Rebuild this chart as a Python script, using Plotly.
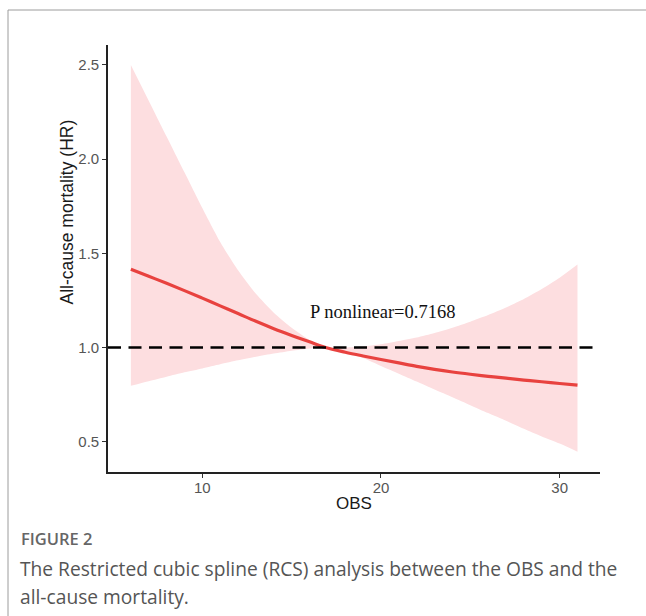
import plotly.graph_objects as go

# ---- data ----
obs = [6, 7, 8, 9, 10, 11, 12, 13, 14, 15, 16, 16.9, 18, 19, 20, 21, 22, 23, 24, 25, 26, 27, 28, 29, 30, 31]
hr = [1.415, 1.378, 1.341, 1.302, 1.262, 1.221, 1.180, 1.139, 1.100, 1.064, 1.030, 1.000,
      0.975, 0.955, 0.936, 0.918, 0.900, 0.884, 0.870, 0.858, 0.847, 0.837, 0.827, 0.818, 0.809, 0.800]
upper = [2.50, 2.31, 2.12, 1.93, 1.74, 1.56, 1.41, 1.285, 1.185, 1.105, 1.040, 1.000,
         1.000, 1.005, 1.017, 1.034, 1.053, 1.077, 1.105, 1.137, 1.172, 1.212, 1.257, 1.310, 1.370, 1.440]
lower = [0.797, 0.821, 0.845, 0.868, 0.889, 0.911, 0.932, 0.951, 0.968, 0.983, 0.995, 1.000,
         0.975, 0.944, 0.902, 0.861, 0.819, 0.777, 0.736, 0.694, 0.652, 0.611, 0.569, 0.528, 0.490, 0.447]

ref_hr = 1.0
y_ticks = [0.5, 1.0, 1.5, 2.0, 2.5]
x_ticks = [10, 20, 30]
p_text = "P nonlinear=0.7168"
p_pos = (20.06, 1.19)
x_title = "OBS"
y_title = "All-cause mortality (HR)"
fig_label = "FIGURE 2"
caption = ["The Restricted cubic spline (RCS) analysis between the OBS and the",
           "all-cause mortality."]

W, H = 646, 616
def px(x):
    return x / W
def py(y):
    return 1 - y / H

fig = go.Figure()
fig.add_trace(go.Scatter(x=obs, y=upper, mode="lines", line=dict(width=0, shape="spline", smoothing=0.6),
                         hoverinfo="skip", showlegend=False))
fig.add_trace(go.Scatter(x=obs, y=lower, mode="lines", line=dict(width=0, shape="spline", smoothing=0.6),
                         fill="tonexty", fillcolor="#FDDEE0", hoverinfo="skip", showlegend=False))
fig.add_trace(go.Scatter(x=obs, y=hr, mode="lines", line=dict(color="#E8423F", width=3.2, shape="spline"),
                         showlegend=False))

fig.add_shape(type="line", xref="x domain", yref="y", x0=0, x1=0.996, y0=ref_hr, y1=ref_hr,
              line=dict(color="black", width=2.6, dash="13px,7.5px"))

# card frame
fig.add_shape(type="line", xref="paper", yref="paper", x0=px(8), x1=1.0, y0=py(10), y1=py(10),
              line=dict(color="#9c9c9c", width=1))
fig.add_shape(type="line", xref="paper", yref="paper", x0=px(8), x1=px(8), y0=py(10), y1=-0.01,
              line=dict(color="#9c9c9c", width=1))

axis_common = dict(showgrid=False, zeroline=False, showline=True, linecolor="#222", linewidth=1.6,
                   ticks="outside", ticklen=4, tickwidth=1.3, tickcolor="#333",
                   tickfont=dict(family="Liberation Sans, Arial", size=15, color="#555555"))

fig.update_layout(
    width=W, height=H,
    margin=dict(l=0, r=0, t=0, b=0, autoexpand=False),
    paper_bgcolor="white", plot_bgcolor="white",
    xaxis=dict(domain=[px(108), px(600)], range=[4.72, 32.26], tickvals=x_ticks,
               ticktext=[str(v) for v in x_ticks], ticklabelstandoff=-3, **axis_common),
    yaxis=dict(domain=[py(472), py(45)], range=[0.339, 2.606], tickvals=y_ticks,
               ticktext=[f"{v:.1f}" for v in y_ticks], **axis_common),
    annotations=[
        dict(x=p_pos[0], y=p_pos[1], xref="x", yref="y", text=p_text, showarrow=False,
             font=dict(family="Liberation Serif, Times New Roman", size=18.5, color="#111"),
             xanchor="center", yanchor="middle"),
        dict(x=px(354), y=py(503), xref="paper", yref="paper", text=x_title, showarrow=False,
             font=dict(family="Liberation Sans, Arial", size=17, color="#1a1a1a"),
             xanchor="center", yanchor="middle"),
        dict(x=px(66.5), y=py(212), xref="paper", yref="paper", text=y_title, showarrow=False,
             textangle=-90,
             font=dict(family="Liberation Sans, Arial", size=17.5, color="#1a1a1a"),
             xanchor="center", yanchor="middle"),
        dict(x=px(19), y=py(538), xref="paper", yref="paper", text=fig_label, showarrow=False,
             font=dict(family="Open Sans", size=16.5, color="#666666", weight=600),
             xanchor="left", yanchor="middle"),
        dict(x=px(18), y=py(568), xref="paper", yref="paper", text=caption[0], showarrow=False,
             font=dict(family="Open Sans", size=19.2, color="#555555"),
             xanchor="left", yanchor="middle"),
        dict(x=px(18), y=py(596), xref="paper", yref="paper", text=caption[1], showarrow=False,
             font=dict(family="Open Sans", size=19.2, color="#555555"),
             xanchor="left", yanchor="middle"),
    ],
)

fig.write_html("out.html")
